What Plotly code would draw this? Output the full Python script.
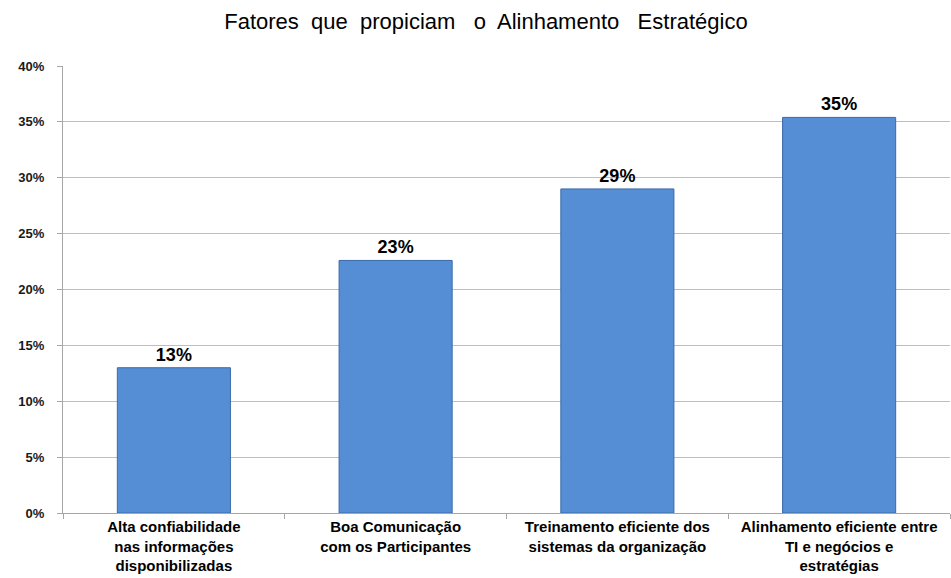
import plotly.graph_objects as go

categories = [
    "Alta confiabilidade<br>nas informações<br>disponibilizadas",
    "Boa Comunicação<br>com os Participantes",
    "Treinamento eficiente dos<br>sistemas da organização",
    "Alinhamento eficiente entre<br>TI e negócios e<br>estratégias",
]
shares = [0.13, 0.226, 0.29, 0.354]
tick_vals = [0, 0.05, 0.10, 0.15, 0.20, 0.25, 0.30, 0.35, 0.40]
tick_text = ["0%", "5%", "10%", "15%", "20%", "25%", "30%", "35%", "40%"]

FONT = "Liberation Sans, Arial, sans-serif"

fig = go.Figure(
    go.Bar(
        x=categories,
        y=shares,
        marker=dict(color="#558ED5", line=dict(color="#3A6AA8", width=1)),
        texttemplate="%{y:.0%}",
        textposition="outside",
        textfont=dict(family=FONT, size=18, color="#000000", weight="bold"),
        cliponaxis=False,
    )
)

fig.update_layout(
    width=951,
    height=578,
    margin=dict(l=63, r=1, t=66, b=65),
    paper_bgcolor="white",
    plot_bgcolor="white",
    bargap=0.49,
    showlegend=False,
    title=dict(
        text="Fatores  que  propiciam   o  Alinhamento   Estratégico",
        x=0.511,
        xanchor="center",
        y=0.964,
        yanchor="middle",
        font=dict(family=FONT, size=22, color="#000000"),
    ),
    font=dict(family=FONT),
)

fig.update_yaxes(
    range=[0, 0.40],
    tickvals=tick_vals,
    ticktext=tick_text,
    showgrid=True,
    gridcolor="#BEBEBE",
    gridwidth=1,
    showline=True,
    linecolor="#A6A6A6",
    linewidth=1,
    ticks="outside",
    ticklen=5,
    tickcolor="#A6A6A6",
    ticklabelstandoff=10,
    tickfont=dict(family=FONT, size=13, color="#1A1A1A", weight="bold"),
    zeroline=False,
)

fig.update_xaxes(
    showline=True,
    linecolor="#A6A6A6",
    linewidth=1,
    ticks="outside",
    ticklen=5,
    tickcolor="#A6A6A6",
    tickson="boundaries",
    tickangle=0,
    tickfont=dict(family=FONT, size=15, color="#000000", weight="bold"),
)

fig.write_html("out.html")
